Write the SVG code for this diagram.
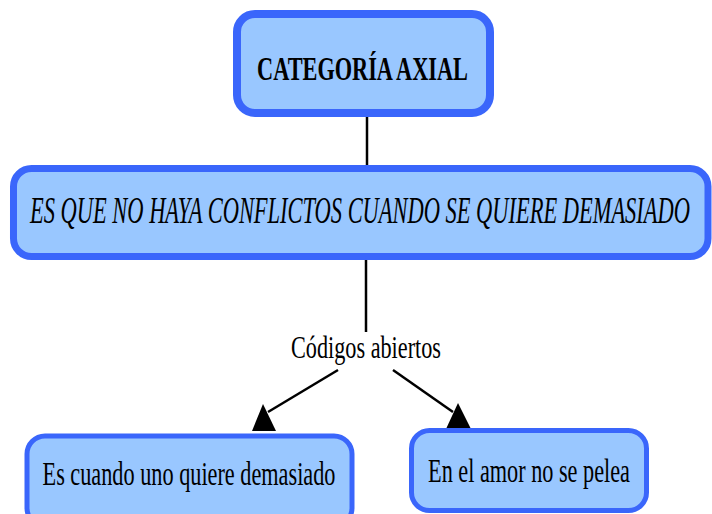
<svg xmlns="http://www.w3.org/2000/svg" width="712" height="514" viewBox="0 0 712 514">
<style>
.box{fill:#99c7ff;stroke:#3a66fb;}
.t{font-family:"Liberation Serif","Times New Roman",serif;fill:#000;text-anchor:middle;}
.edge{stroke:#000;stroke-width:2.5;fill:none;}
.head{fill:#000;}
</style>
<rect width="712" height="514" fill="#fff"/>
<g id="connectors">
<line class="edge" x1="367" y1="117" x2="367" y2="166"/>
<line class="edge" x1="366" y1="260" x2="366" y2="332"/>
<line class="edge" x1="338" y1="370" x2="268" y2="412"/>
<polygon class="head" points="263,404 252,431 276,431"/>
<line class="edge" x1="393" y1="370" x2="453" y2="412"/>
<polygon class="head" points="458,403 446,429 471,429"/>
</g>
<g id="node-top">
<rect class="box" x="237" y="14" width="253" height="99" rx="18" stroke-width="8"/>
<text class="t" transform="translate(362.5,80) scale(0.676,1)" font-size="33" font-weight="bold">CATEGORÍA AXIAL</text>
</g>
<g id="node-middle">
<rect class="box" x="13.5" y="168.5" width="694.5" height="88" rx="18" stroke-width="7"/>
<text class="t" transform="translate(360,223) scale(0.591,1)" font-size="38" font-style="italic">ES QUE NO HAYA CONFLICTOS CUANDO SE QUIERE DEMASIADO</text>
</g>
<g id="label">
<text class="t" transform="translate(366,358) scale(0.717,1)" font-size="31">Códigos abiertos</text>
</g>
<g id="node-left">
<rect class="box" x="27" y="436" width="325" height="90" rx="18" stroke-width="5"/>
<text class="t" transform="translate(189,485) scale(0.655,1)" font-size="34">Es cuando uno quiere demasiado</text>
</g>
<g id="node-right">
<rect class="box" x="411.5" y="430.5" width="235" height="80" rx="18" stroke-width="5"/>
<text class="t" transform="translate(529,482) scale(0.654,1)" font-size="34">En el amor no se pelea</text>
</g>
</svg>
